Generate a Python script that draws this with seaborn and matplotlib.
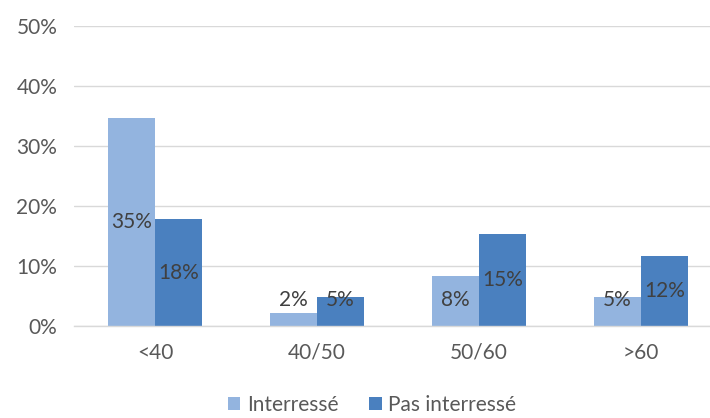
import numpy as np
import pandas as pd
import matplotlib
matplotlib.use("Agg")
import matplotlib.pyplot as plt
import seaborn as sns

categories = ["<40", "40/50", "50/60", ">60"]
interesse = [34.6, 2.2, 8.3, 4.8]
pas_interesse = [17.8, 4.8, 15.3, 11.7]
series = ["Interressé", "Pas interressé"]

df = pd.DataFrame({
    "age": categories * 2,
    "pct": interesse + pas_interesse,
    "groupe": [series[0]] * 4 + [series[1]] * 4,
})

sns.set_theme(style="white")
plt.rcParams["font.family"] = ["Lato", "DejaVu Sans"]

fig = plt.figure(figsize=(7.1, 4.18), dpi=100)
ax = fig.add_axes([74 / 710, 1 - 326 / 418, 648 / 710, 300 / 418])

colors = ["#93b4df", "#4a80bf"]
sns.barplot(data=df, x="age", y="pct", hue="groupe", palette=colors,
            width=0.58, ax=ax, legend=True, saturation=1, linewidth=0)

ax.set_ylim(0, 50)
ax.set_xlim(-0.5, 3.5)
ax.set_yticks(np.arange(0, 51, 10))
ax.set_yticklabels([f"{v}%" for v in range(0, 51, 10)])
ax.yaxis.grid(True, color="#d9d9d9", linewidth=1)
ax.set_axisbelow(True)
for s in ["top", "right", "left"]:
    ax.spines[s].set_visible(False)
ax.spines["bottom"].set_color("#d9d9d9")
ax.spines["bottom"].set_linewidth(1)
ax.tick_params(axis="both", length=0, labelsize=15, colors="#595959")
ax.tick_params(axis="x", pad=12)
ax.tick_params(axis="y", pad=12)
ax.set_xlabel("")
ax.set_ylabel("")

for cont in ax.containers:
    for bar in cont:
        v = bar.get_height()
        cx = bar.get_x() + bar.get_width() / 2
        ax.text(cx, max(v / 2, 4.3), f"{round(v)}%", ha="center", va="center",
                fontsize=15, color="#404040")

leg = ax.legend(loc="center", bbox_to_anchor=(372 / 710, 1 - 405 / 418),
                bbox_transform=fig.transFigure, ncol=2, frameon=False,
                fontsize=15, handlelength=0.6, handleheight=0.6,
                handletextpad=0.3, columnspacing=1.5)
for t in leg.get_texts():
    t.set_color("#595959")

fig.savefig("out.png", dpi=100)
